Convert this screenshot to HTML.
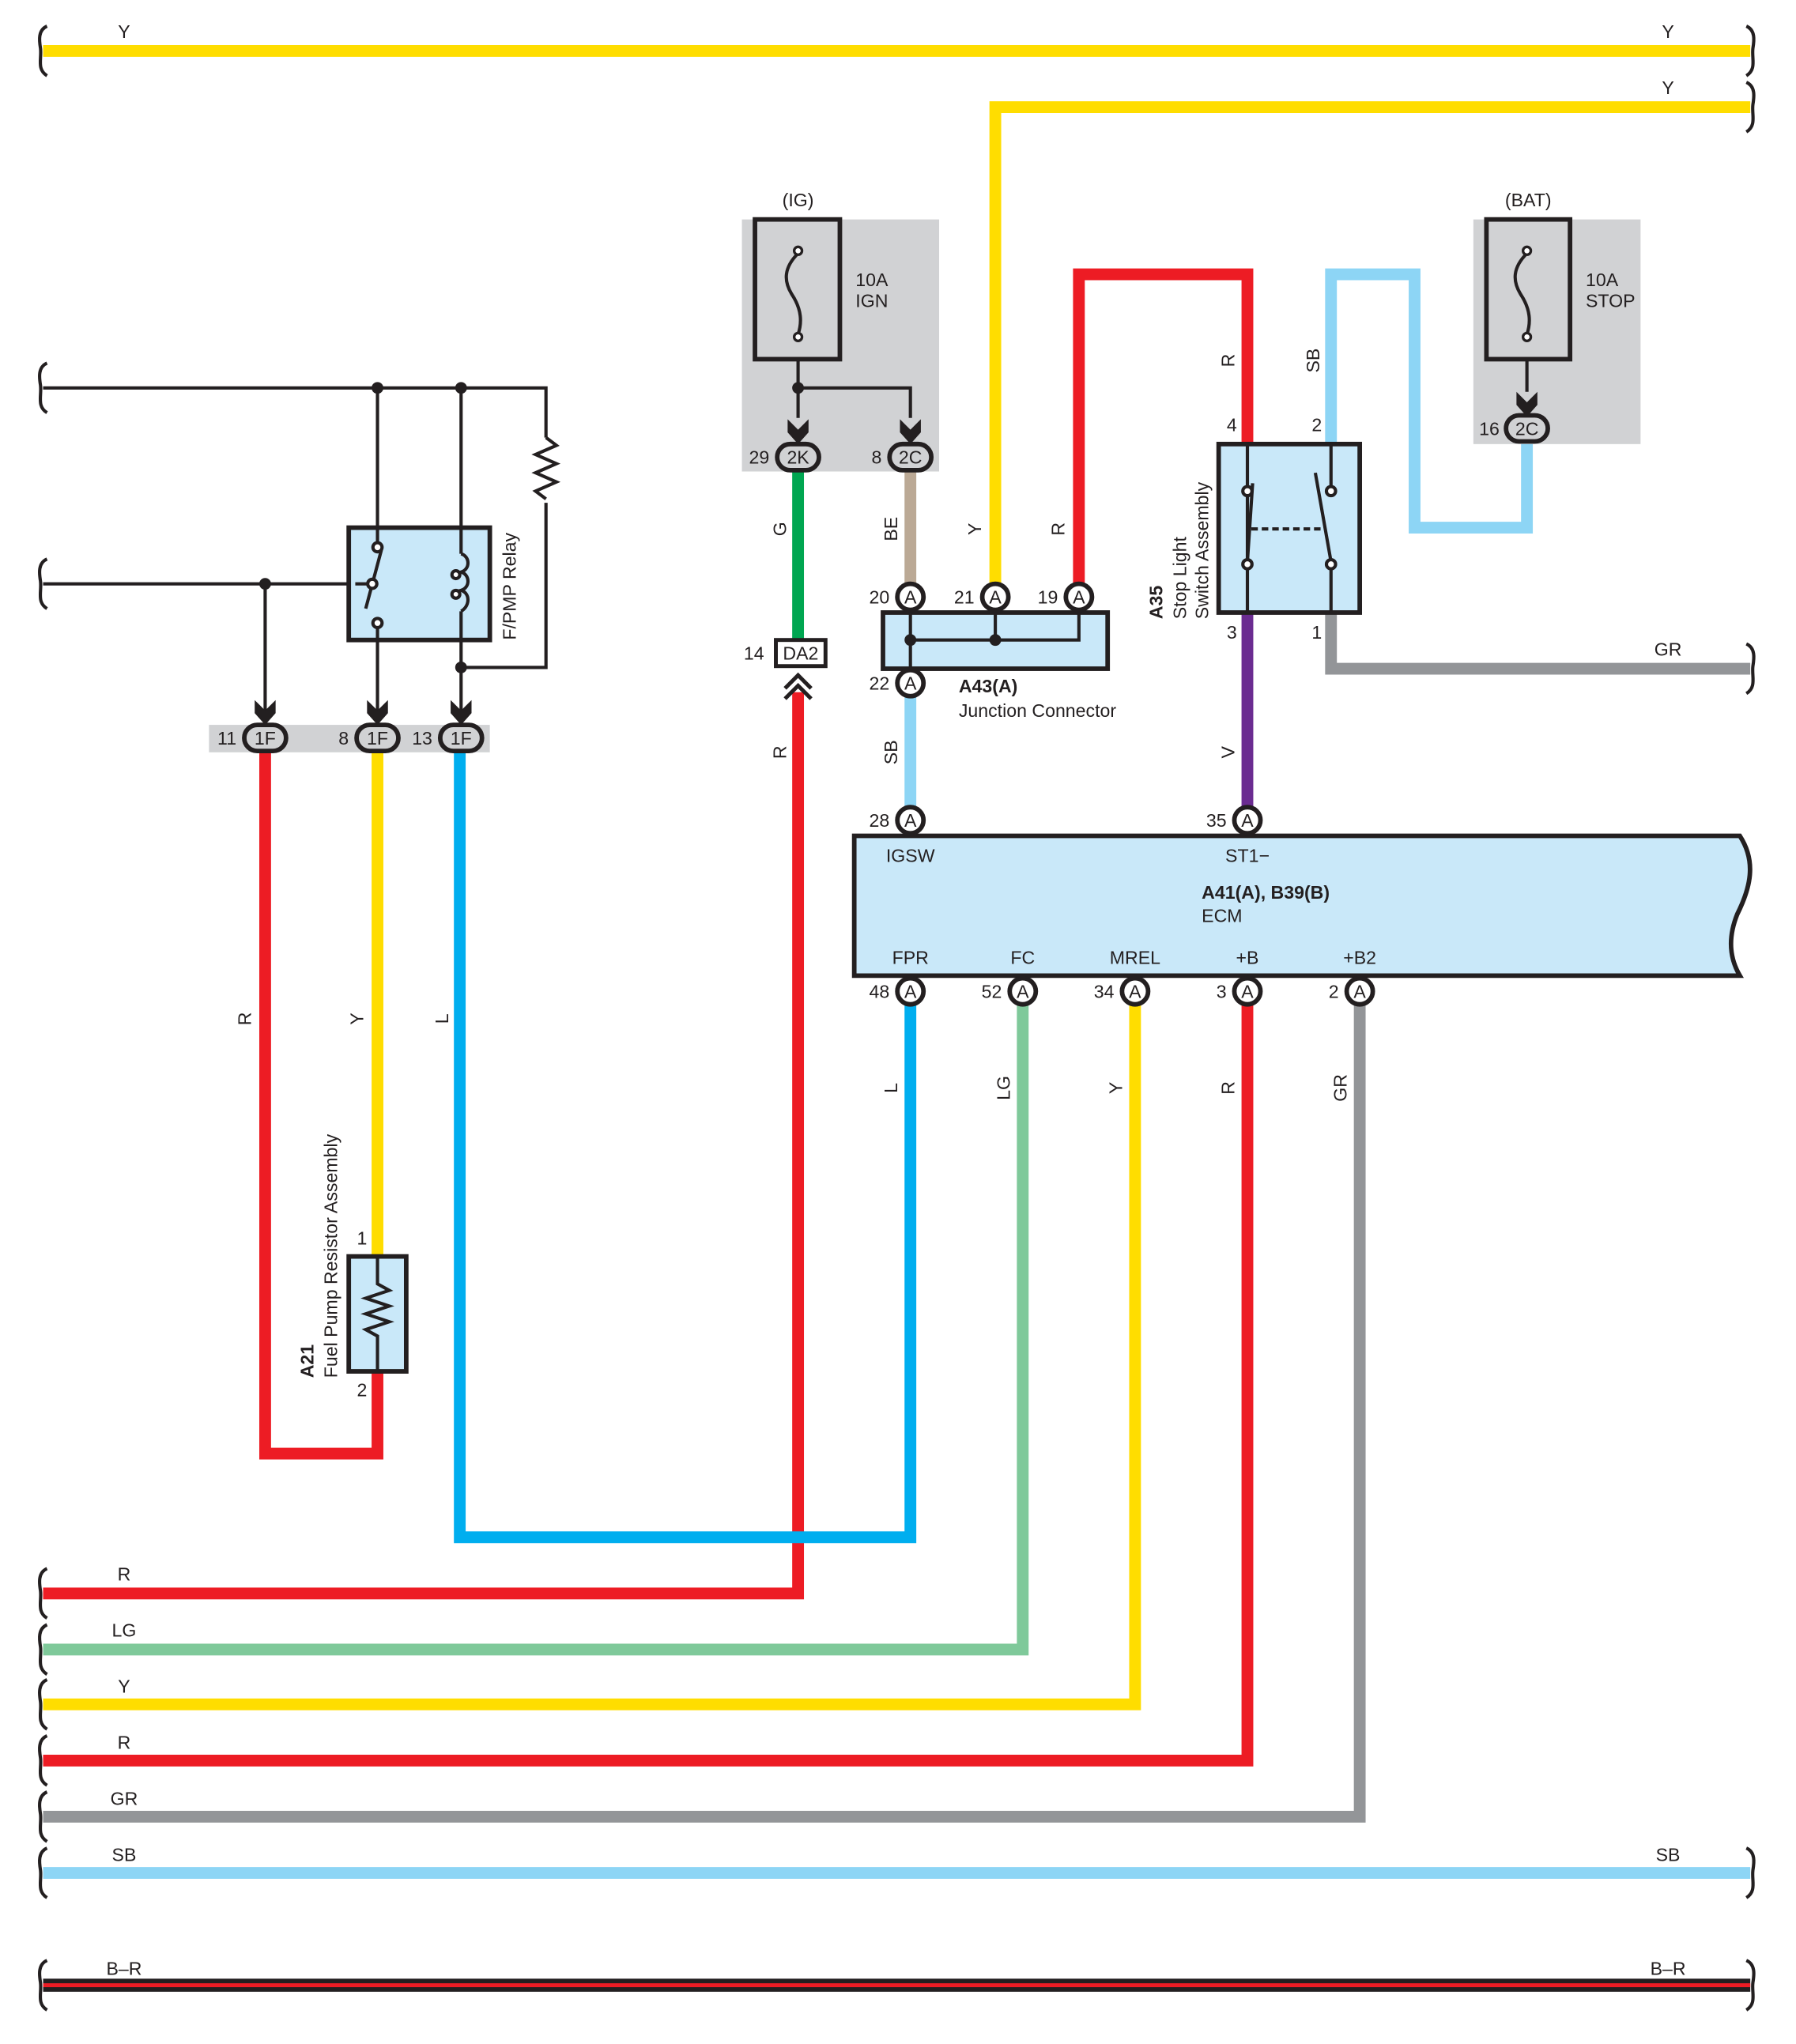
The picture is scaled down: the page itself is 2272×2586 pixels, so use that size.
<!DOCTYPE html>
<html><head><meta charset="utf-8"><style>
html,body{margin:0;padding:0;background:#fff;}
svg{display:block;}
text{font-family:"Liberation Sans",sans-serif;font-size:14px;fill:#231f20;}
.b{font-weight:bold;}
</style></head><body>
<svg width="2272" height="2586" viewBox="0 0 1375 1565" xmlns="http://www.w3.org/2000/svg">
<defs>
<g id="brkL"><path d="M3,-19 C-4,-16 -3,-8 -2,-2 C-1,6 -5,14 3,19" fill="none" stroke="#231f20" stroke-width="2.5"/></g>
<g id="brkR"><path d="M-3,-19 C4,-16 3,-8 2,-2 C1,6 5,14 -3,19" fill="none" stroke="#231f20" stroke-width="2.5"/></g>
</defs>
<rect width="1375" height="1565" fill="#fff"/>

<!-- gray boxes -->
<rect x="568" y="168" width="151" height="193" fill="#d1d2d4"/>
<rect x="1128" y="168" width="128" height="172" fill="#d1d2d4"/>
<rect x="160" y="555" width="215" height="21" fill="#d1d2d4"/>

<!-- wires -->
<g fill="none" stroke-width="9" stroke-linejoin="miter">
<path d="M33,39 H1340" stroke="#FFDD00"/>
<path d="M762,450 V82 H1340" stroke="#FFDD00"/>
<path d="M611,360 V490" stroke="#00A651"/>
<path d="M697,360 V447" stroke="#BBA995"/>
<path d="M826,450 V210 H955 V340" stroke="#ED1C24"/>
<path d="M1019,340 V210 H1083 V404 H1169 V340" stroke="#8DD5F5"/>
<path d="M955,469 V618" stroke="#6B2C91"/>
<path d="M1019,469 V512 H1340" stroke="#939598"/>
<path d="M697,533 V618" stroke="#8DD5F5"/>
<path d="M611,530 V1220 H33" stroke="#ED1C24"/>
<path d="M697,769 V1177 H352 V575" stroke="#00AEEF"/>
<path d="M783,769 V1263 H33" stroke="#7FC99A"/>
<path d="M869,769 V1305 H33" stroke="#FFDD00"/>
<path d="M955,769 V1348 H33" stroke="#ED1C24"/>
<path d="M1041,769 V1391 H33" stroke="#939598"/>
<path d="M33,1434 H1340" stroke="#8DD5F5"/>
<path d="M203,575 V1113 H289 V1050" stroke="#ED1C24"/>
<path d="M289,575 V962" stroke="#FFDD00"/>
</g>
<!-- B-R -->
<rect x="33" y="1515" width="1307" height="10" fill="#231f20"/>
<rect x="33" y="1518.5" width="1307" height="3" fill="#ED1C24"/>

<!-- break marks -->
<g>
<use href="#brkL" x="33" y="39"/><use href="#brkR" x="1340" y="39"/>
<use href="#brkR" x="1340" y="82"/><use href="#brkR" x="1340" y="512"/>
<use href="#brkL" x="33" y="297"/><use href="#brkL" x="33" y="447"/>
<use href="#brkL" x="33" y="1220"/><use href="#brkL" x="33" y="1263"/>
<use href="#brkL" x="33" y="1305"/><use href="#brkL" x="33" y="1348"/>
<use href="#brkL" x="33" y="1391"/><use href="#brkL" x="33" y="1434"/>
<use href="#brkR" x="1340" y="1434"/>
<use href="#brkL" x="33" y="1520"/><use href="#brkR" x="1340" y="1520"/>
</g>

<!-- thin black lines -->
<g fill="none" stroke="#231f20" stroke-width="2.5">
<path d="M33,297 H418 V335 M418,385 V511 H353"/>
<path d="M418,335 l8,6 l-16,7 l16,7 l-16,7 l16,7 l-16,7 l8,6"/>
<path d="M33,447 H272"/>
<path d="M203,447 V545 M289,297 V545 M353,297 V545"/>
<path d="M611,275 V320 M611,297 H697 V320"/>
<path d="M1169,275 V300"/>
</g>
<g fill="#231f20">
<circle cx="289" cy="297" r="4.5"/><circle cx="353" cy="297" r="4.5"/>
<circle cx="203" cy="447" r="4.5"/><circle cx="353" cy="511" r="4.5"/>
<circle cx="611" cy="297" r="4.5"/>
<path d="M195,536 l8,8 l8,-8 v10 l-8,9 l-8,-9z"/>
<path d="M281,536 l8,8 l8,-8 v10 l-8,9 l-8,-9z"/>
<path d="M345,536 l8,8 l8,-8 v10 l-8,9 l-8,-9z"/>
<path d="M603,321 l8,8 l8,-8 v10 l-8,9 l-8,-9z"/>
<path d="M689,321 l8,8 l8,-8 v10 l-8,9 l-8,-9z"/>
<path d="M1161,300 l8,8 l8,-8 v10 l-8,9 l-8,-9z"/>
</g>
<path d="M601,527 l10,-10 l10,10 M601,535 l10,-10 l10,10" fill="none" stroke="#231f20" stroke-width="3"/>

<!-- fuses -->
<g fill="none" stroke="#231f20">
<rect x="578" y="168" width="65" height="107" stroke-width="3.5"/>
<rect x="1138" y="168" width="64" height="107" stroke-width="3.5"/>
<path d="M611,194 C600,205 600,215 606,225 C614,237 614,247 611,256" stroke-width="2.5"/>
<path d="M1169,194 C1158,205 1158,215 1164,225 C1172,237 1172,247 1169,256" stroke-width="2.5"/>
</g>
<g fill="#fff" stroke="#231f20" stroke-width="2">
<circle cx="611" cy="192" r="3"/><circle cx="611" cy="258" r="3"/>
<circle cx="1169" cy="192" r="3"/><circle cx="1169" cy="258" r="3"/>
</g>

<!-- relay -->
<rect x="267" y="404" width="108" height="86" fill="#c9e8f9" stroke="#231f20" stroke-width="3.5"/>
<g fill="none" stroke="#231f20" stroke-width="2.5">
<path d="M289,404 V416 M289,478 V490 M353,404 V424 M353,468 V490"/>
<path d="M272,447 H282 M292,421 L280,466"/>
<path d="M353,424 c7,2 7,12 0,14 c7,2 7,12 0,14 c7,2 7,12 0,16"/>
<circle cx="289" cy="419" r="3.5" fill="#fff"/><circle cx="285" cy="447" r="3.5" fill="#fff"/><circle cx="289" cy="477" r="3.5" fill="#fff"/>
<circle cx="349" cy="440" r="3" fill="#fff"/><circle cx="349" cy="455" r="3" fill="#fff"/>
</g>

<!-- resistor A21 -->
<rect x="267" y="962" width="44" height="88" fill="#c9e8f9" stroke="#231f20" stroke-width="3.5"/>
<path d="M289,962 V983 l9,5 l-18,6 l18,6 l-18,6 l18,6 l-18,6 l9,5 V1050" fill="none" stroke="#231f20" stroke-width="2.5"/>

<!-- junction connector -->
<rect x="676" y="469" width="172" height="43" fill="#c9e8f9" stroke="#231f20" stroke-width="3.5"/>
<path d="M697,467 V513 M762,467 V490 M826,467 V490 H697" fill="none" stroke="#231f20" stroke-width="2.5"/>
<circle cx="697" cy="490" r="4.5" fill="#231f20"/><circle cx="762" cy="490" r="4.5" fill="#231f20"/>

<!-- stop light switch -->
<rect x="933" y="340" width="108" height="129" fill="#c9e8f9" stroke="#231f20" stroke-width="3.5"/>
<g fill="none" stroke="#231f20" stroke-width="2.5">
<path d="M955,340 V469 M1019,340 V375 M1019,433 V469"/>
<path d="M959,370 L955,430 M1007,362 L1019,430"/>
<path d="M958,405 H1012" stroke-dasharray="5,3"/>
<circle cx="955" cy="376" r="3.5" fill="#fff"/><circle cx="955" cy="432" r="3.5" fill="#fff"/>
<circle cx="1019" cy="376" r="3.5" fill="#fff"/><circle cx="1019" cy="432" r="3.5" fill="#fff"/>
</g>

<!-- ECM -->
<path d="M654,640 H1332 C1345,660 1340,680 1330,700 C1322,720 1325,735 1332,747 H654 Z" fill="#c9e8f9" stroke="#231f20" stroke-width="3.5"/>

<rect x="594" y="490" width="38" height="20" fill="#fff" stroke="#231f20" stroke-width="3"/>
<text x="613" y="505" text-anchor="middle">DA2</text>

<g fill="#d1d2d4" stroke="#231f20" stroke-width="3.5">
<rect x="187" y="555" width="32" height="20" rx="10"/>
<rect x="273" y="555" width="32" height="20" rx="10"/>
<rect x="337" y="555" width="32" height="20" rx="10"/>
<rect x="595" y="340" width="32" height="20" rx="10"/>
<rect x="681" y="340" width="32" height="20" rx="10"/>
<rect x="1153" y="318" width="32" height="20" rx="10"/>
</g>
<g fill="#fff" stroke="#231f20" stroke-width="3.5">
<circle cx="697" cy="457" r="10"/><circle cx="762" cy="457" r="10"/><circle cx="826" cy="457" r="10"/>
<circle cx="697" cy="523" r="10"/>
<circle cx="697" cy="628" r="10"/><circle cx="955" cy="628" r="10"/>
<circle cx="697" cy="759" r="10"/><circle cx="783" cy="759" r="10"/><circle cx="869" cy="759" r="10"/><circle cx="955" cy="759" r="10"/><circle cx="1041" cy="759" r="10"/>
</g>
<g text-anchor="middle">
<text x="203" y="570">1F</text><text x="289" y="570">1F</text><text x="353" y="570">1F</text>
<text x="611" y="355">2K</text><text x="697" y="355">2C</text><text x="1169" y="333">2C</text>
<text x="697" y="462">A</text><text x="762" y="462">A</text><text x="826" y="462">A</text>
<text x="697" y="528">A</text><text x="697" y="633">A</text><text x="955" y="633">A</text>
<text x="697" y="764">A</text><text x="783" y="764">A</text><text x="869" y="764">A</text><text x="955" y="764">A</text><text x="1041" y="764">A</text>
</g>
<g text-anchor="end">
<text x="181" y="570">11</text><text x="267" y="570">8</text><text x="331" y="570">13</text>
<text x="589" y="355">29</text><text x="675" y="355">8</text><text x="1148" y="333">16</text>
<text x="585" y="505">14</text>
<text x="681" y="462">20</text><text x="746" y="462">21</text><text x="810" y="462">19</text>
<text x="681" y="528">22</text><text x="681" y="633">28</text><text x="939" y="633">35</text>
<text x="681" y="764">48</text><text x="767" y="764">52</text><text x="853" y="764">34</text><text x="939" y="764">3</text><text x="1025" y="764">2</text>
<text x="947" y="330">4</text><text x="1012" y="330">2</text>
<text x="947" y="489">3</text><text x="1012" y="489">1</text>
<text x="281" y="953">1</text><text x="281" y="1069">2</text>
</g>

<g text-anchor="middle">
<text x="95" y="29">Y</text><text x="1277" y="29">Y</text><text x="1277" y="72">Y</text>
<text x="611" y="158">(IG)</text><text x="1170" y="158">(BAT)</text>
<text x="1277" y="502">GR</text>
<text x="697" y="660">IGSW</text><text x="955" y="660">ST1−</text>
<text x="697" y="738">FPR</text><text x="783" y="738">FC</text><text x="869" y="738">MREL</text><text x="955" y="738">+B</text><text x="1041" y="738">+B2</text>
<text x="95" y="1210">R</text><text x="95" y="1253">LG</text><text x="95" y="1296">Y</text><text x="95" y="1339">R</text><text x="95" y="1382">GR</text><text x="95" y="1425">SB</text><text x="1277" y="1425">SB</text>
<text x="95" y="1512">B–R</text><text x="1277" y="1512">B–R</text>
</g>
<text x="655" y="219">10A</text><text x="655" y="235">IGN</text>
<text x="1214" y="219">10A</text><text x="1214" y="235">STOP</text>
<text x="734" y="530" class="b">A43(A)</text><text x="734" y="549">Junction Connector</text>
<text x="920" y="688" class="b">A41(A), B39(B)</text><text x="920" y="706">ECM</text>

<g text-anchor="middle">
<text transform="translate(192,780) rotate(-90)">R</text>
<text transform="translate(278,780) rotate(-90)">Y</text>
<text transform="translate(343,780) rotate(-90)">L</text>
<text transform="translate(602,405) rotate(-90)">G</text>
<text transform="translate(687,405) rotate(-90)">BE</text>
<text transform="translate(751,405) rotate(-90)">Y</text>
<text transform="translate(815,405) rotate(-90)">R</text>
<text transform="translate(945,276) rotate(-90)">R</text>
<text transform="translate(1010,276) rotate(-90)">SB</text>
<text transform="translate(687,576) rotate(-90)">SB</text>
<text transform="translate(945,576) rotate(-90)">V</text>
<text transform="translate(602,576) rotate(-90)">R</text>
<text transform="translate(687,833) rotate(-90)">L</text>
<text transform="translate(773,833) rotate(-90)">LG</text>
<text transform="translate(859,833) rotate(-90)">Y</text>
<text transform="translate(945,833) rotate(-90)">R</text>
<text transform="translate(1031,833) rotate(-90)">GR</text>
</g>
<text transform="translate(395,490) rotate(-90)">F/PMP Relay</text>
<text transform="translate(890,474) rotate(-90)" class="b">A35</text>
<text transform="translate(908,474) rotate(-90)">Stop Light</text>
<text transform="translate(925,474) rotate(-90)">Switch Assembly</text>
<text transform="translate(240,1055) rotate(-90)" class="b">A21</text>
<text transform="translate(258,1055) rotate(-90)">Fuel Pump Resistor Assembly</text>
</svg>
</body></html>
